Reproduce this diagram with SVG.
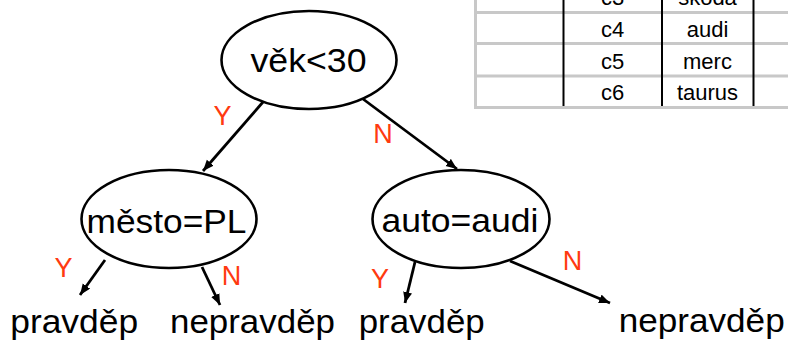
<svg xmlns="http://www.w3.org/2000/svg" width="788" height="343" viewBox="0 0 788 343">
  <style>
    .node { fill: #ffffff; stroke: #000000; stroke-width: 2.6; }
    .lbl { font-family: "Liberation Sans", Arial, sans-serif; font-size: 33px; fill: #000000; text-anchor: middle; }
    .yn { font-family: "Liberation Sans", Arial, sans-serif; font-size: 27px; fill: #ff3a10; text-anchor: middle; }
    .cell { font-family: "Liberation Sans", Arial, sans-serif; font-size: 22px; fill: #000000; text-anchor: middle; }
    .grid { stroke: #c8c8c8; stroke-width: 3; fill: none; }
    .col { stroke: #000000; stroke-width: 2; }
    .edge { stroke: #000000; stroke-width: 2.8; fill: none; marker-end: url(#arrow); }
  </style>
  <defs>
    <marker id="arrow" markerUnits="userSpaceOnUse" markerWidth="12" markerHeight="10" refX="11" refY="4.5" orient="auto">
      <path d="M0,0 L11,4.5 L0,9 z" fill="#000000"/>
    </marker>
  </defs>

  <rect width="788" height="343" fill="#ffffff"/>

  <!-- data table, partly visible in the upper right -->
  <g id="table">
    <line class="grid" x1="475.5" y1="0" x2="475.5" y2="109"/>
    <line class="grid" x1="474" y1="12.5" x2="788" y2="12.5"/>
    <line class="grid" x1="474" y1="43.5" x2="788" y2="43.5"/>
    <line class="grid" x1="474" y1="76" x2="788" y2="76"/>
    <line class="grid" x1="474" y1="107.5" x2="788" y2="107.5"/>
    <line class="col" x1="563.5" y1="0" x2="563.5" y2="106"/>
    <line class="col" x1="662" y1="0" x2="662" y2="106"/>
    <line class="col" x1="753.5" y1="0" x2="753.5" y2="106"/>
    <text class="cell" x="612.5" y="5">c3</text>
    <text class="cell" x="707.5" y="5">škoda</text>
    <text class="cell" x="612.5" y="37">c4</text>
    <text class="cell" x="707.5" y="37">audi</text>
    <text class="cell" x="612.5" y="68.5">c5</text>
    <text class="cell" x="707.5" y="68.5">merc</text>
    <text class="cell" x="612.5" y="100">c6</text>
    <text class="cell" x="707.5" y="100">taurus</text>
  </g>

  <!-- connectors -->
  <g id="connectors">
    <line class="edge" x1="263" y1="102" x2="203" y2="171"/>
    <line class="edge" x1="363" y1="99" x2="457" y2="169"/>
    <line class="edge" x1="105" y1="260" x2="80" y2="295"/>
    <line class="edge" x1="202" y1="267" x2="220" y2="305"/>
    <line class="edge" x1="415" y1="262" x2="405" y2="303"/>
    <line class="edge" x1="510" y1="261" x2="610" y2="303"/>
    <text class="yn" x="222.5" y="125">Y</text>
    <text class="yn" x="383" y="143">N</text>
    <text class="yn" x="63.5" y="277">Y</text>
    <text class="yn" x="231.5" y="285">N</text>
    <text class="yn" x="380" y="288">Y</text>
    <text class="yn" x="572.5" y="270">N</text>
  </g>

  <!-- decision nodes -->
  <g id="n-vek">
    <ellipse class="node" cx="309" cy="60" rx="87.5" ry="49"/>
    <text class="lbl" x="308.5" y="72" textLength="116" lengthAdjust="spacingAndGlyphs">věk&lt;30</text>
  </g>
  <g id="n-mesto">
    <ellipse class="node" cx="169" cy="219" rx="87.5" ry="49"/>
    <text class="lbl" x="166.5" y="233" textLength="160" lengthAdjust="spacingAndGlyphs">město=PL</text>
  </g>
  <g id="n-auto">
    <ellipse class="node" cx="461" cy="219" rx="88.5" ry="49"/>
    <text class="lbl" x="460" y="232" textLength="157" lengthAdjust="spacingAndGlyphs">auto=audi</text>
  </g>

  <!-- leaves -->
  <g id="leaf-1">
    <text class="lbl" x="74.2" y="333" textLength="128" lengthAdjust="spacingAndGlyphs">pravděp</text>
  </g>
  <g id="leaf-2">
    <text class="lbl" x="252.5" y="333" textLength="165" lengthAdjust="spacingAndGlyphs">nepravděp</text>
  </g>
  <g id="leaf-3">
    <text class="lbl" x="421.7" y="333" textLength="126" lengthAdjust="spacingAndGlyphs">pravděp</text>
  </g>
  <g id="leaf-4">
    <text class="lbl" x="701.7" y="332" textLength="166" lengthAdjust="spacingAndGlyphs">nepravděp</text>
  </g>
</svg>
